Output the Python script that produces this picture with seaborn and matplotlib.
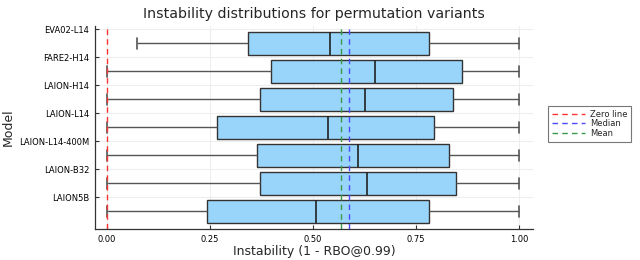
import matplotlib
matplotlib.use("Agg")
import matplotlib.pyplot as plt
import numpy as np
import pandas as pd
import seaborn as sns

sns.set_theme(style="ticks")
plt.rcParams['font.family'] = ['DejaVu Sans']

# five-number summaries: min, q1, median, q3, max
models = ["EVA02-L14", "FARE2-H14", "LAION-H14", "LAION-L14",
          "LAION-L14-400M", "LAION-B32", "LAION5B"]
mins = [0.072, 0.0, 0.0, 0.0, 0.0, 0.0, 0.0]
q1s = [0.342, 0.397, 0.371, 0.266, 0.364, 0.371, 0.243]
medians = [0.540, 0.650, 0.627, 0.536, 0.608, 0.631, 0.506]
q3s = [0.780, 0.861, 0.839, 0.794, 0.829, 0.847, 0.780]
maxs = [1.0, 1.0, 1.0, 1.0, 1.0, 1.0, 1.0]

overall_median = 0.587
overall_mean = 0.568

rows = []
for m, a, b, c, d, e in zip(models, mins, q1s, medians, q3s, maxs):
    for v in (a, b, c, d, e):
        rows.append({"model": m, "value": v})
df = pd.DataFrame(rows)

fig = plt.figure(figsize=(6.4, 2.6), dpi=100)
ax = fig.add_axes([0.148, 0.119, 0.685, 0.781])

sns.boxplot(
    data=df, x="value", y="model", order=models, orient="h",
    whis=(0, 100), width=0.8, color="#99d5fb", saturation=1,
    linecolor="#333333", linewidth=1.0,
    whiskerprops=dict(color="#555555", linewidth=1.0),
    capprops=dict(color="#555555", linewidth=1.2),
    medianprops=dict(color="#222222", linewidth=1.2),
    ax=ax,
)

ax.axvline(0, color="#ff3333", ls=(0, (4, 3)), lw=1.0, label="Zero line")
ax.axvline(overall_median, color="#4a4aff", ls=(0, (4, 3)), lw=1.0, label="Median")
ax.axvline(overall_mean, color="#3a9a4a", ls=(0, (4, 3)), lw=1.0, label="Mean")

# ticks sit half a slot above each box
ax.set_yticks(np.arange(len(models)) - 0.5)
ax.set_yticklabels(models, fontsize=6)
ax.set_ylim(len(models) - 0.37, -0.62)
ax.set_xlim(-0.0298, 1.0337)
ax.set_xticks([0, 0.25, 0.5, 0.75, 1.0])
ax.set_xticklabels(["0.00", "0.25", "0.50", "0.75", "1.00"], fontsize=6)
ax.tick_params(direction="in", length=3, width=0.8, colors="#333333", pad=4)
ax.tick_params(axis="both", labelcolor="black")

ax.grid(True, color="#eeeeee", linewidth=0.8)
ax.set_axisbelow(True)
sns.despine(ax=ax)
for s in ("left", "bottom"):
    ax.spines[s].set_color("#333333")
    ax.spines[s].set_linewidth(0.9)

ax.set_title("Instability distributions for permutation variants", fontsize=10.2, pad=6)
ax.set_xlabel("Instability (1 - RBO@0.99)", fontsize=9, labelpad=1)
ax.set_ylabel("Model", fontsize=9, labelpad=3)

leg = ax.legend(loc="upper left", bbox_to_anchor=(1.035, 0.605), fontsize=6,
                frameon=True, fancybox=False, edgecolor="#555555",
                handlelength=4.0, handletextpad=0.6, borderpad=0.4,
                labelspacing=0.1, borderaxespad=0)
leg.get_frame().set_linewidth(0.8)

fig.savefig("out.png", dpi=100)
